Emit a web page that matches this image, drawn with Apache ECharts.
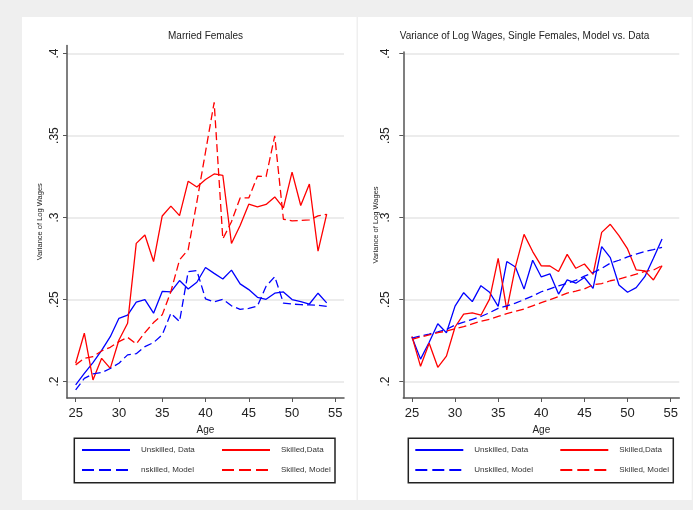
<!DOCTYPE html>
<html>
<head>
<meta charset="utf-8">
<title>Variance of Log Wages</title>
<script src="https://cdn.jsdelivr.net/npm/echarts@6/dist/echarts.min.js"></script>
<style>
  html, body { margin: 0; padding: 0; background: #efefef; }
  #main { width: 693px; height: 510px; }
</style>
</head>
<body>
<div id="main"></div>
<script type="text/javascript">
    var ages = [25, 26, 27, 28, 29, 30, 31, 32, 33, 34, 35, 36, 37, 38, 39,
                40, 41, 42, 43, 44, 45, 46, 47, 48, 49, 50, 51, 52, 53, 54];
    var xTicks = [25, 30, 35, 40, 45, 50, 55];
    var yTicks = [0.2, 0.25, 0.3, 0.35, 0.4];

    // married females (left panel)
    var marUnskData = [0.198, 0.205, 0.2116, 0.219, 0.2274, 0.2386, 0.2405, 0.2485, 0.250, 0.2417,
                       0.255, 0.2547, 0.2616, 0.2565, 0.2606, 0.2696, 0.266, 0.2626, 0.268, 0.2596,
                       0.2561, 0.2514, 0.2502, 0.2539, 0.2547, 0.2500, 0.2488, 0.2473, 0.2539, 0.2480];
    var marSkData = [0.2112, 0.2295, 0.201, 0.2142, 0.2081, 0.2254, 0.2356, 0.2843, 0.2894, 0.2732,
                     0.301, 0.307, 0.3012, 0.3222, 0.3187, 0.3232, 0.3266, 0.3258, 0.2842, 0.2952,
                     0.3082, 0.3065, 0.308, 0.3126, 0.3059, 0.3277, 0.3074, 0.3205, 0.2795, 0.3021];
    var marUnskModel = [0.1949, 0.202, 0.2047, 0.2055, 0.208, 0.2112, 0.2163, 0.217, 0.2213, 0.2238,
                        0.2285, 0.2417, 0.2366, 0.2670, 0.2677, 0.2505, 0.2486, 0.2502, 0.2462, 0.2441,
                        0.2446, 0.2461, 0.2581, 0.2640, 0.2479, 0.2473, 0.2469, 0.2468, 0.2466, 0.2459];
    var marSkModel = [0.2102, 0.2142, 0.2152, 0.2187, 0.2209, 0.2244, 0.227, 0.223, 0.2299, 0.236,
                      0.2407, 0.2549, 0.2742, 0.2805, 0.3095, 0.340, 0.3703, 0.2870, 0.2975, 0.312,
                      0.312, 0.3252, 0.325, 0.3498, 0.299, 0.298, 0.2982, 0.2986, 0.301, 0.302];

    // single females (right panel)
    var sinUnskData = [0.2272, 0.2137, 0.2240, 0.2353, 0.2298, 0.2460, 0.2542, 0.2488, 0.2585, 0.2545,
                       0.2459, 0.2732, 0.2699, 0.2564, 0.2740, 0.2638, 0.2657, 0.2534, 0.2620, 0.2600,
                       0.2635, 0.2569, 0.2823, 0.2756, 0.2589, 0.2545, 0.2573, 0.2640, 0.2752, 0.2870];
    var sinSkData = [0.2276, 0.2093, 0.2234, 0.2087, 0.2155, 0.2333, 0.2412, 0.2419, 0.2405, 0.2503,
                     0.2752, 0.2437, 0.2700, 0.2898, 0.2793, 0.2706, 0.2705, 0.2671, 0.2776, 0.2691,
                     0.2717, 0.2654, 0.2910, 0.2959, 0.2890, 0.2809, 0.2681, 0.2675, 0.2620, 0.2707];
    var sinUnskModel = [0.2265, 0.2278, 0.2290, 0.2303, 0.2318, 0.2345, 0.2362, 0.2380, 0.2397, 0.2420,
                        0.2447, 0.2462, 0.2478, 0.2500, 0.2522, 0.2548, 0.2566, 0.2584, 0.2600, 0.2617,
                        0.2643, 0.2665, 0.2690, 0.2722, 0.2740, 0.2760, 0.2778, 0.2793, 0.2805, 0.2818];
    var sinSkModel = [0.2258, 0.2272, 0.2285, 0.2298, 0.2308, 0.2322, 0.2335, 0.2352, 0.2368, 0.2380,
                      0.2398, 0.2415, 0.2428, 0.2443, 0.2462, 0.2481, 0.2500, 0.2518, 0.2540, 0.2552,
                      0.2565, 0.2590, 0.2598, 0.2615, 0.2625, 0.2640, 0.2655, 0.2672, 0.2680, 0.2708];

    var BLUE = '#0000ff', RED = '#ff0000';
    var FONT = '"Liberation Sans", Arial, sans-serif';
    var dash = [8, 4];
    var legendDash = [12, 5];

    function pairs(vals) {
        return ages.map(function (a, i) { return [a, vals[i]]; });
    }

    function xAxisFor(idx) {
        return {
            gridIndex: idx, type: 'value', min: 24, max: 56,
            name: 'Age', nameLocation: 'middle', nameGap: 22,
            nameTextStyle: { fontSize: 10, color: '#222', fontFamily: FONT },
            axisLine: { show: true, onZero: false, lineStyle: { color: '#555', width: 1.5 } },
            axisTick: { show: true, length: 4, customValues: xTicks, lineStyle: { color: '#555', width: 1 } },
            axisLabel: { customValues: xTicks, fontSize: 13, color: '#222', margin: 9, fontFamily: FONT },
            splitLine: { show: false }
        };
    }

    function yAxisFor(idx, max, labelMargin, nameGap) {
        return {
            gridIndex: idx, type: 'value', min: 0.19, max: max,
            name: 'Variance of Log Wages', nameLocation: 'middle', nameGap: nameGap,
            nameMoveOverlap: false,
            nameTextStyle: { fontSize: 7.5, color: '#222', fontFamily: FONT },
            axisLine: { show: true, lineStyle: { color: '#555', width: 1.5 } },
            axisTick: { show: true, length: 4, customValues: yTicks, lineStyle: { color: '#555', width: 1 } },
            axisLabel: {
                customValues: yTicks, rotate: 90, fontSize: 12, color: '#222', margin: labelMargin,
                fontFamily: FONT,
                formatter: function (v) { return String(+v.toFixed(2)).replace(/^0/, ''); }
            },
            splitLine: { show: true, lineStyle: { color: '#e6e6e6', width: 1.5 } }
        };
    }

    function line(name, idx, vals, color, dashed) {
        return {
            name: name, type: 'line', xAxisIndex: idx, yAxisIndex: idx,
            data: pairs(vals), symbol: 'none', showSymbol: false,
            lineStyle: { color: color, width: 1.3, type: dashed ? dash : 'solid' },
            itemStyle: { color: color },
            emphasis: { disabled: true }
        };
    }

    function legendRow(left, top, gap, items) {
        return {
            orient: 'horizontal', left: left, top: top, padding: 0,
            itemWidth: 48, itemHeight: 10, itemGap: gap, selectedMode: false,
            itemStyle: { opacity: 0 },
            textStyle: { fontSize: 8, color: '#333', width: 70, lineHeight: 10,
                         padding: [0, 0, 0, 6], fontFamily: FONT },
            data: items
        };
    }

    var myChart = echarts.init(document.getElementById('main'));

    var option = {
        animation: false,
        backgroundColor: '#efefef',
        title: [
            { text: 'Married Females', left: 205.5, top: 31, textAlign: 'center', padding: 0,
              textStyle: { fontSize: 10, fontWeight: 'normal', color: '#222', fontFamily: FONT } },
            { text: 'Variance of Log Wages, Single Females, Model vs. Data', left: 524.5, top: 31,
              textAlign: 'center', padding: 0,
              textStyle: { fontSize: 10, fontWeight: 'normal', color: '#222', fontFamily: FONT } }
        ],
        graphic: [
            { type: 'rect', silent: true, z: -10, shape: { x: 22, y: 17, width: 334.5, height: 483 }, style: { fill: '#fff' } },
            { type: 'rect', silent: true, z: -10, shape: { x: 358, y: 17, width: 333.7, height: 483 }, style: { fill: '#fff' } },
            { type: 'rect', silent: true, shape: { x: 74.3, y: 438.3, width: 260.7, height: 44.4 }, style: { fill: 'none', stroke: '#222', lineWidth: 1.5 } },
            { type: 'rect', silent: true, shape: { x: 408.3, y: 438.3, width: 265, height: 44.4 }, style: { fill: 'none', stroke: '#222', lineWidth: 1.5 } }
        ],
        grid: [
            { left: 67, top: 45.4, width: 277, height: 352.6 },
            { left: 403.3, top: 52, width: 276, height: 346 }
        ],
        xAxis: [xAxisFor(0), xAxisFor(1)],
        yAxis: [yAxisFor(0, 0.405, 6, 23), yAxisFor(1, 0.401, 12, 23)],
        legend: [
            legendRow(81, 445, 10, ['Unskilled, Data', 'Skilled,Data']),
            legendRow(81, 465, 10, [
                { name: 'nskilled, Model', lineStyle: { type: legendDash } },
                { name: 'Skilled, Model', lineStyle: { type: legendDash } }
            ]),
            legendRow(414.3, 445, 15, ['Unskilled, Data', 'Skilled,Data']),
            legendRow(414.3, 465, 15, [
                { name: 'Unskilled, Model', lineStyle: { type: legendDash } },
                { name: 'Skilled, Model', lineStyle: { type: legendDash } }
            ])
        ],
        series: [
            line('Unskilled, Data', 0, marUnskData, BLUE, false),
            line('Skilled,Data', 0, marSkData, RED, false),
            line('nskilled, Model', 0, marUnskModel, BLUE, true),
            line('Skilled, Model', 0, marSkModel, RED, true),
            line('Unskilled, Data', 1, sinUnskData, BLUE, false),
            line('Skilled,Data', 1, sinSkData, RED, false),
            line('Unskilled, Model', 1, sinUnskModel, BLUE, true),
            line('Skilled, Model', 1, sinSkModel, RED, true)
        ]
    };
    myChart.setOption(option);
</script>
</body>
</html>
